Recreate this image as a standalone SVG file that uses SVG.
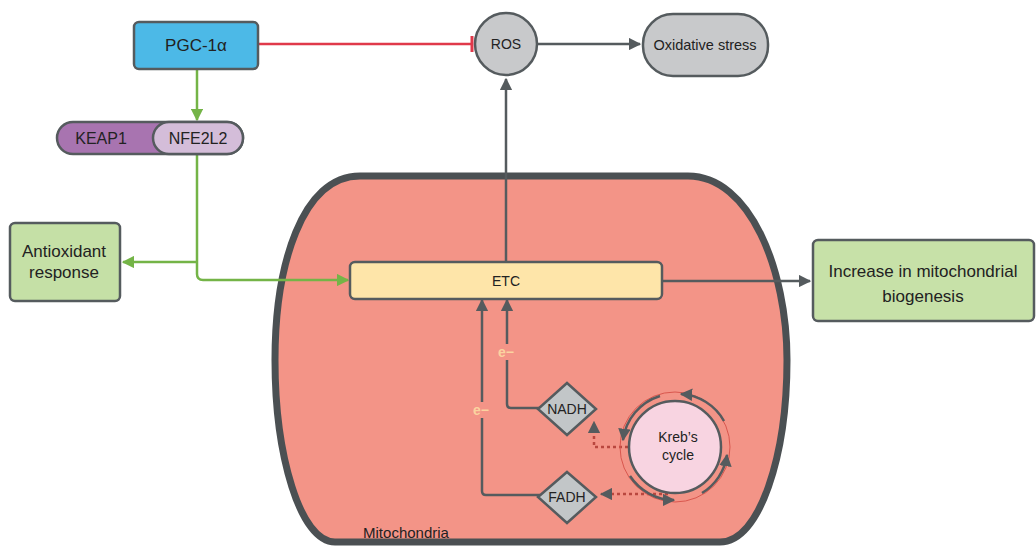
<svg xmlns="http://www.w3.org/2000/svg" width="1036" height="548" viewBox="0 0 1036 548">
<style>
text{font-family:"Liberation Sans",Arial,sans-serif;fill:#222;text-anchor:middle;dominant-baseline:central}
.box{stroke:#555b5e;stroke-width:2.5}
.gl{fill:none;stroke:#74b447;stroke-width:2.5}
.dl{fill:none;stroke:#555b5e;stroke-width:2.5}
.dot{fill:none;stroke:#b9473f;stroke-width:2.5;stroke-dasharray:3 3}
.em{fill:#fbd3a0;font-size:14px;font-weight:bold}
</style>
<defs>
<marker id="ag" viewBox="0 0 10 10" refX="9" refY="5" markerWidth="5" markerHeight="5" orient="auto-start-reverse" markerUnits="strokeWidth"><path d="M0,0 L10,5 L0,10 z" fill="#74b447"/></marker>
<marker id="ad" viewBox="0 0 10 10" refX="9" refY="5" markerWidth="5" markerHeight="5" orient="auto-start-reverse" markerUnits="strokeWidth"><path d="M0,0 L10,5 L0,10 z" fill="#555b5e"/></marker>
<marker id="ar" viewBox="0 0 10 10" refX="9" refY="5" markerWidth="5" markerHeight="5" orient="auto" markerUnits="strokeWidth"><path d="M0,0 L10,5 L0,10 z" fill="#555b5e"/></marker>
</defs>
<rect width="1036" height="548" fill="#fff"/>

<g id="mitochondria">
<path d="M360 176 L688 176 C750 176 787 270 787 360 C787 455 760 542 720 542 L335 542 C300 542 275 455 275 360 C275 265 302 176 360 176 Z" fill="#f39487" stroke="#4b5053" stroke-width="7"/>
<text x="406" y="532" font-size="15">Mitochondria</text>
</g>

<g id="connectors">
<path d="M258 44 L472 44" stroke="#e0394a" stroke-width="2.5" fill="none"/>
<path d="M472 36 L472 52" stroke="#e0394a" stroke-width="3" fill="none"/>
<path class="dl" d="M537 44 L640 44" marker-end="url(#ad)"/>
<path class="gl" d="M197 68 L197 120" marker-end="url(#ag)"/>
<path class="gl" d="M197 154 L197 274 Q197 280 203 280 L348 280" marker-end="url(#ag)"/>
<path class="gl" d="M197 262 L123 262" marker-end="url(#ag)"/>
<path class="dl" d="M506 262 L506 79" marker-end="url(#ad)"/>
<path class="dl" d="M662 281 L810 281" marker-end="url(#ad)"/>
<path class="dl" d="M482 402 L482 300" marker-end="url(#ad)"/>
<path class="dl" d="M482 418 L482 491 Q482 495 486 495 L540 495"/>
<path class="dl" d="M507 344 L507 300" marker-end="url(#ad)"/>
<path class="dl" d="M507 360 L507 404 Q507 408 511 408 L540 408"/>
<text class="em" x="481" y="410">e−</text>
<text class="em" x="506" y="352">e−</text>
<path class="dot" d="M628 447 L594 447 L594 422" marker-end="url(#ad)"/>
<path class="dot" d="M668 494 L601 494" marker-end="url(#ad)"/>
</g>

<g id="pgc1a">
<rect class="box" x="134" y="22" width="124" height="47" rx="5" fill="#4cb9e7"/>
<text x="196" y="45" font-size="17">PGC-1α</text>
</g>

<g id="ros">
<circle class="box" cx="506" cy="44" r="31" fill="#c8c9cb"/>
<text x="506" y="44" font-size="14">ROS</text>
</g>

<g id="oxidative-stress">
<rect class="box" x="643" y="14" width="125" height="62" rx="30" fill="#c8c9cb"/>
<text x="705" y="45" font-size="14.5">Oxidative stress</text>
</g>

<g id="keap1-nfe2l2">
<rect class="box" x="57" y="122" width="186" height="32" rx="16" fill="#a874b0"/>
<rect class="box" x="153" y="122" width="90" height="32" rx="16" fill="#d4bdd9"/>
<text x="101" y="138" font-size="16">KEAP1</text>
<text x="198" y="138" font-size="16">NFE2L2</text>
</g>

<g id="antioxidant">
<rect class="box" x="10" y="223" width="110" height="78" rx="5" fill="#c5e0a6"/>
<text x="64" y="251" font-size="17">Antioxidant</text>
<text x="64" y="272" font-size="17">response</text>
</g>

<g id="etc">
<rect class="box" x="350" y="262" width="312" height="37" rx="5" fill="#fee5a9"/>
<text x="506" y="281" font-size="14">ETC</text>
</g>

<g id="biogenesis">
<rect class="box" x="813" y="240" width="221" height="81" rx="5" fill="#c7e1a8"/>
<text x="923" y="271" font-size="17">Increase in mitochondrial</text>
<text x="923" y="296" font-size="17">biogenesis</text>
</g>

<g id="nadh">
<path class="box" d="M567 383 L596 409 L567 435 L538 409 Z" fill="#c2c6c8"/>
<text x="567" y="409" font-size="14">NADH</text>
</g>

<g id="fadh">
<path class="box" d="M567 472 L596 497 L567 523 L538 497 Z" fill="#c2c6c8"/>
<text x="567" y="497" font-size="14">FADH</text>
</g>

<g id="krebs">
<circle cx="675" cy="447" r="55" fill="none" stroke="#d9574e" stroke-width="1"/>
<circle class="box" cx="675" cy="447" r="46" fill="#f8d4e1"/>
<path class="dl" stroke-width="2" d="M724 421 A53 53 0 0 0 681 394" marker-end="url(#ar)"/>
<path class="dl" stroke-width="2" d="M660 396 A53 53 0 0 0 623 440" marker-end="url(#ar)"/>
<path class="dl" stroke-width="2" d="M702 493 A53 53 0 0 0 727 455" marker-end="url(#ar)"/>
<path class="dl" stroke-width="2" d="M630 476 A53 53 0 0 0 674 500" marker-end="url(#ar)"/>
<text x="678" y="437" font-size="14">Kreb’s</text>
<text x="678" y="455" font-size="14">cycle</text>
</g>
</svg>
